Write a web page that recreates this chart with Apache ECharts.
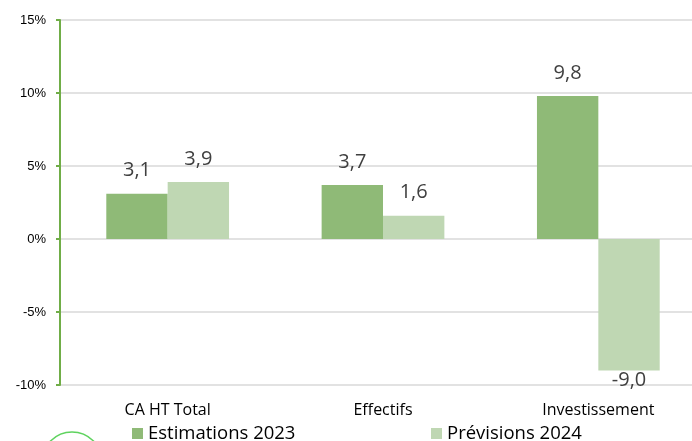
<!DOCTYPE html>
<html>
<head>
<meta charset="utf-8">
<script src="https://cdn.jsdelivr.net/npm/echarts@6/dist/echarts.min.js"></script>
<style>
html,body{margin:0;padding:0;background:#fff;}
#main{width:692px;height:441px;}
</style>
</head>
<body>
<div id="main"></div>
<script type="text/javascript">
	var categories = ["CA HT Total", "Effectifs", "Investissement"];
	var estimations2023 = [3.1, 3.7, 9.8];
	var previsions2024 = [3.9, 1.6, -9.0];
	var seriesNames = ["Estimations 2023", "Prévisions 2024"];
	var colors = ["#8fba77", "#bfd7b3"];

	// libellés des valeurs, virgule décimale
	function fmt(p){
		return p.value.toFixed(1).replace('.', ',');
	}

	var myChart = echarts.init(document.getElementById("main"));
	var labelStyle = {
		show: true,
		fontFamily: 'Open Sans',
		fontSize: 20,
		color: '#404040',
		formatter: fmt
	};
	var legendBase = {
		top: 419,
		itemWidth: 11, itemHeight: 11,
		icon: 'rect',
		textStyle: {fontFamily: 'Open Sans', fontSize: 18.5, color: '#000'}
	};

	var option = {
		animation: false,
		grid: {left: 60, width: 646, top: 20, bottom: 56, outerBoundsMode: 'none'},
		legend: [
			Object.assign({left: 127, data: [seriesNames[0]]}, legendBase),
			Object.assign({left: 426, data: [seriesNames[1]]}, legendBase)
		],
		xAxis: {
			type: 'category',
			data: categories,
			axisLine: {show: false, onZero: false},
			axisTick: {show: false},
			axisLabel: {margin: 17, fontFamily: 'Open Sans', fontSize: 16, color: '#000'}
		},
		yAxis: {
			type: 'value',
			min: -10, max: 15, interval: 5,
			axisLine: {show: true, lineStyle: {color: '#70ad47', width: 2}},
			axisTick: {show: true, length: 4, lineStyle: {color: '#70ad47', width: 2}},
			axisLabel: {margin: 14, fontFamily: 'Liberation Sans', fontSize: 13, color: '#000', formatter: '{value}%'},
			splitLine: {lineStyle: {color: '#d9d9d9', width: 1.5}}
		},
		series: [
			{
				name: seriesNames[0],
				type: 'bar',
				data: estimations2023,
				barGap: '0%',
				barCategoryGap: '43%',
				itemStyle: {color: colors[0]},
				label: Object.assign({position: 'top', distance: 13}, labelStyle)
			},
			{
				name: seriesNames[1],
				type: 'bar',
				data: previsions2024.map(function(v){
					return v < 0 ? {value: v, label: {position: 'bottom', distance: 0}} : v;
				}),
				itemStyle: {color: colors[1]},
				label: Object.assign({position: 'top', distance: 13}, labelStyle)
			}
		],
		graphic: [{
			type: 'circle',
			shape: {cx: 72, cy: 462, r: 30},
			style: {fill: 'none', stroke: '#5fd35f', lineWidth: 1.5}
		}]
	};

	myChart.setOption(option);
</script>
</body>
</html>
